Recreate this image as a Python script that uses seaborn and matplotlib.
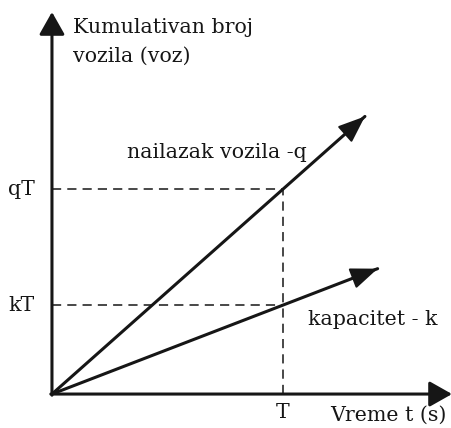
import numpy as np
import pandas as pd
import matplotlib.pyplot as plt
import seaborn as sns

# podaci (T = 1 vremenska jedinica)
T = 1.0
q = 0.887      # nailazak vozila
k = 0.385      # kapacitet
t_end_q = 1.355
t_end_k = 1.41
series = ["nailazak vozila -q", "kapacitet - k"]

df = pd.DataFrame({
    "t": [0, t_end_q, 0, t_end_k],
    "N": [0, q * t_end_q, 0, k * t_end_k],
    "serija": [series[0], series[0], series[1], series[1]],
})

sns.set_theme(style="white")
plt.rcParams['font.family'] = ['DejaVu Serif', 'DejaVu Sans']

fig = plt.figure(figsize=(4.52, 4.28), dpi=100)
ax = fig.add_axes([0, 0, 1, 1])
ax.set_xlim(-0.225, 1.732)
ax.set_ylim(-0.147, 1.706)
ax.axis("off")

ink = "#161616"

sns.lineplot(data=df, x="t", y="N", units="serija", estimator=None,
             color=ink, linewidth=2.2, ax=ax, legend=False)

# strelice na krajevima pravih
for te, s in [(t_end_q, q), (t_end_k, k)]:
    ax.annotate("", xy=(te, s * te), xytext=(te - 0.08, s * (te - 0.08)),
                arrowprops=dict(arrowstyle="-|>,head_length=1.4,head_width=0.55",
                                color=ink, lw=1.5, shrinkA=0, shrinkB=0))

# ose
arrow = dict(arrowstyle="-|>,head_length=1.15,head_width=0.65", color=ink,
             lw=2.2, shrinkA=0, shrinkB=0)
ax.annotate("", xy=(1.732, 0), xytext=(-0.005, 0), arrowprops=arrow)
ax.annotate("", xy=(0, 1.654), xytext=(0, -0.005), arrowprops=arrow)

# isprekidane linije
dash = dict(color=ink, lw=1.1, ls=(0, (6, 4)))
ax.plot([0, T], [q * T, q * T], **dash)
ax.plot([0, T], [k * T, k * T], **dash)
ax.plot([T, T], [0, q * T], **dash)

fs = 14.8
txt = dict(fontsize=fs, color=ink)
ax.text(0.09, 1.563, "Kumulativan broj", va="baseline", ha="left", **txt)
ax.text(0.09, 1.437, "vozila (voz)", va="baseline", ha="left", **txt)
ax.text(0.325, 1.022, series[0], va="baseline", ha="left", **txt)
ax.text(1.108, 0.299, series[1], va="baseline", ha="left", **txt)
ax.text(-0.074, q * T, "qT", va="center", ha="right", **txt)
ax.text(-0.074, k * T, "kT", va="center", ha="right", **txt)
ax.text(T, -0.104, "T", va="baseline", ha="center", **txt)
ax.text(1.71, -0.117, "Vreme t (s)", va="baseline", ha="right", **txt)

fig.savefig("out.png", dpi=100)
